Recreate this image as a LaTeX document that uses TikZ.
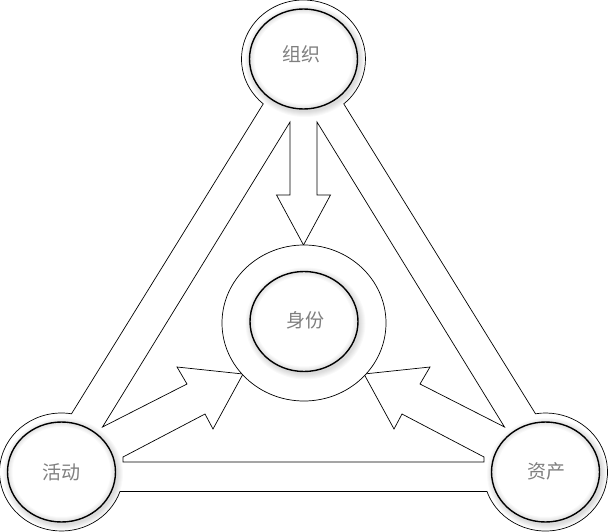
\documentclass[tikz,border=0pt]{standalone}
\usepackage{fontspec}
\newfontfamily\cjk{Noto Sans CJK SC}
\usetikzlibrary{calc,shapes.geometric}
\definecolor{txtgray}{HTML}{7F7F7F}
\newcommand\mkglow[2]{\foreach \k in {1,...,6}{\fill[black,opacity=0.025] (#1+1.5,#2+2) ellipse [x radius=54+\k, y radius=50+\k];}}
\begin{document}
\begin{tikzpicture}[x=1pt,y=-1pt,
  band/.style={draw=black,line width=0.7pt,line join=miter,fill=white},
  ringnode/.style={ellipse,draw=black,line width=0.7pt,fill=white,minimum width=164pt,minimum height=156pt,inner sep=0pt},
  core/.style={ellipse,draw=black,line width=1.4pt,fill=white,minimum width=108pt,minimum height=100pt,inner sep=0pt,
    path picture={\foreach \w in {2,4,6,8,10}{\draw[black,opacity=0.025,line width=\w pt] (path picture bounding box.center) ellipse [x radius=54pt,y radius=50pt];}}},
  lbl/.style={font=\cjk\fontsize{19pt}{19pt}\selectfont,text=txtgray,inner sep=0pt}]
\useasboundingbox (0,0) rectangle (610,532);
\fill[white] (0,0) rectangle (610,532);
\coordinate (tc) at (303.5,59);
\coordinate (lc) at (61.5,472);
\coordinate (rc) at (545.5,472);
% outer band
\draw[band] ([shift={(tc)}]49.5:62 and 59) arc[start angle=49.5,end angle=-229.5,x radius=62,y radius=59]
  -- ([shift={(lc)}]-80.7:62 and 59) arc[start angle=-80.7,end angle=-340.7,x radius=62,y radius=59]
  -- ([shift={(rc)}]160.7:62 and 59) arc[start angle=160.7,end angle=-99.3,x radius=62,y radius=59]
  -- cycle;
% inner triangle with three converging arrows
\draw[band] (290,122) -- (102.5,427) -- (187,384) -- (177,367) -- (243,374) -- (213,429) -- (205,414)
  -- (123,457) -- (123,462) -- (484,462) -- (484,457) -- (402,414) -- (394,429) -- (364,374)
  -- (430,367) -- (420,384) -- (504.5,427) -- (317,122) -- (317,195) -- (330.5,195) -- (303.5,245)
  -- (276.5,195) -- (290,195) -- cycle;
% centre ring
\node[ringnode] (idring) at (304,323) {};
% glows
\mkglow{303.5}{59}
\mkglow{304}{321.5}
\mkglow{61.5}{472}
\mkglow{545.5}{472}
% cores
\node[core] (org) at (303.5,59) {};
\node[core] (ident) at (304,321.5) {};
\node[core] (act) at (61.5,472) {};
\node[core] (asset) at (545.5,472) {};
% labels
\node[lbl] (orgT) at (301,54) {组织};
\node[lbl] (identT) at (305,320) {身份};
\node[lbl] (actT) at (61,472) {活动};
\node[lbl] (assetT) at (546,471) {资产};
\end{tikzpicture}
\end{document}
